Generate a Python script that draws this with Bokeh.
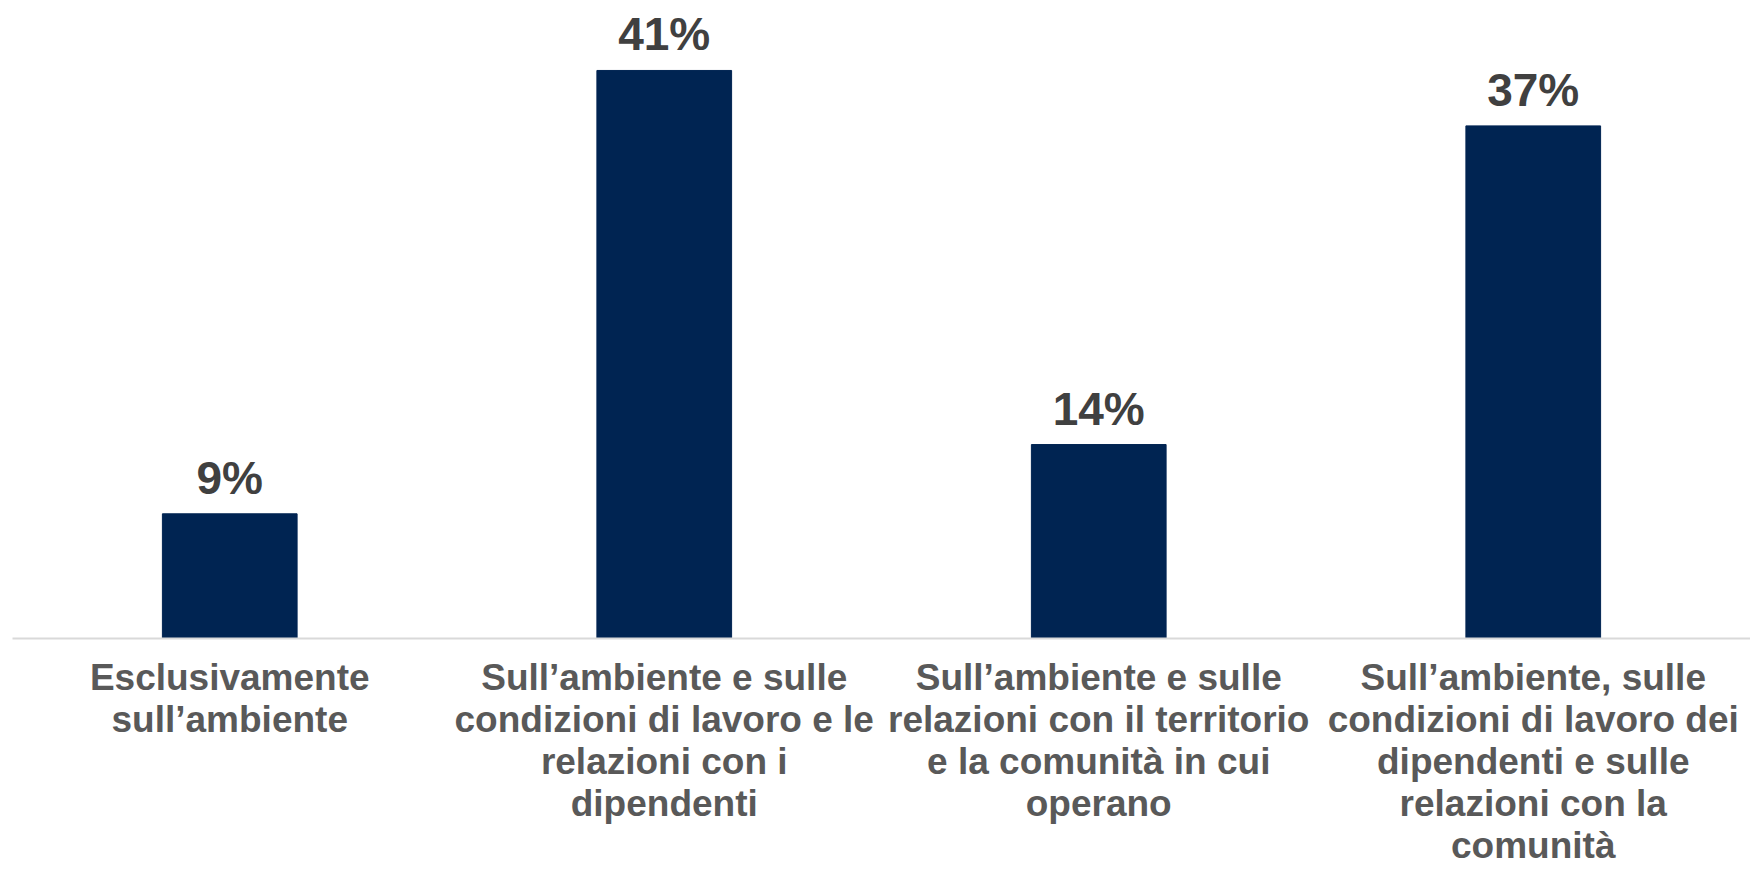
from bokeh.plotting import figure
from bokeh.models import ColumnDataSource, LabelSet, FactorRange, Range1d
from bokeh.core.properties import value
from bokeh.embed import file_html
from bokeh.resources import INLINE

categories = [
    "Esclusivamente\nsull\u2019ambiente",
    "Sull\u2019ambiente e sulle\ncondizioni di lavoro e le\nrelazioni con i\ndipendenti",
    "Sull\u2019ambiente e sulle\nrelazioni con il territorio\ne la comunit\u00e0 in cui\noperano",
    "Sull\u2019ambiente, sulle\ncondizioni di lavoro dei\ndipendenti e sulle\nrelazioni con la\ncomunit\u00e0",
]
values = [9, 41, 14, 37]
value_labels = [f"{v}%" for v in values]

src = ColumnDataSource(dict(cat=categories, val=values, lab=value_labels))

p = figure(
    x_range=FactorRange(*categories, range_padding=0),
    y_range=Range1d(0, 46.05),
    width=1750, height=869,
    output_backend="svg", toolbar_location=None,
    min_border_left=12, min_border_right=0, min_border_top=0, min_border_bottom=231,
)
p.outline_line_color = None
p.grid.visible = False
p.yaxis.visible = False

p.vbar(x="cat", top="val", width=0.31, source=src, color="#002452")

labels = LabelSet(x="cat", y="val", text="lab", source=src, y_offset=20,
                  text_align="center", text_baseline="alphabetic",
                  text_font=value("Liberation Sans"), text_font_style="bold",
                  text_font_size="46px", text_color="#404040")
p.add_layout(labels)

xa = p.xaxis[0]
xa.axis_line_color = "#d9d9d9"
xa.axis_line_width = 2
xa.major_tick_line_color = None
xa.minor_tick_line_color = None
xa.major_tick_in = 0
xa.major_tick_out = 0
xa.major_label_text_font = "Liberation Sans"
xa.major_label_text_font_style = "bold"
xa.major_label_text_font_size = "37px"
xa.major_label_text_color = "#595959"
xa.major_label_text_line_height = 1.03
xa.major_label_standoff = 18

open("out.html", "w").write(file_html(p, INLINE))
